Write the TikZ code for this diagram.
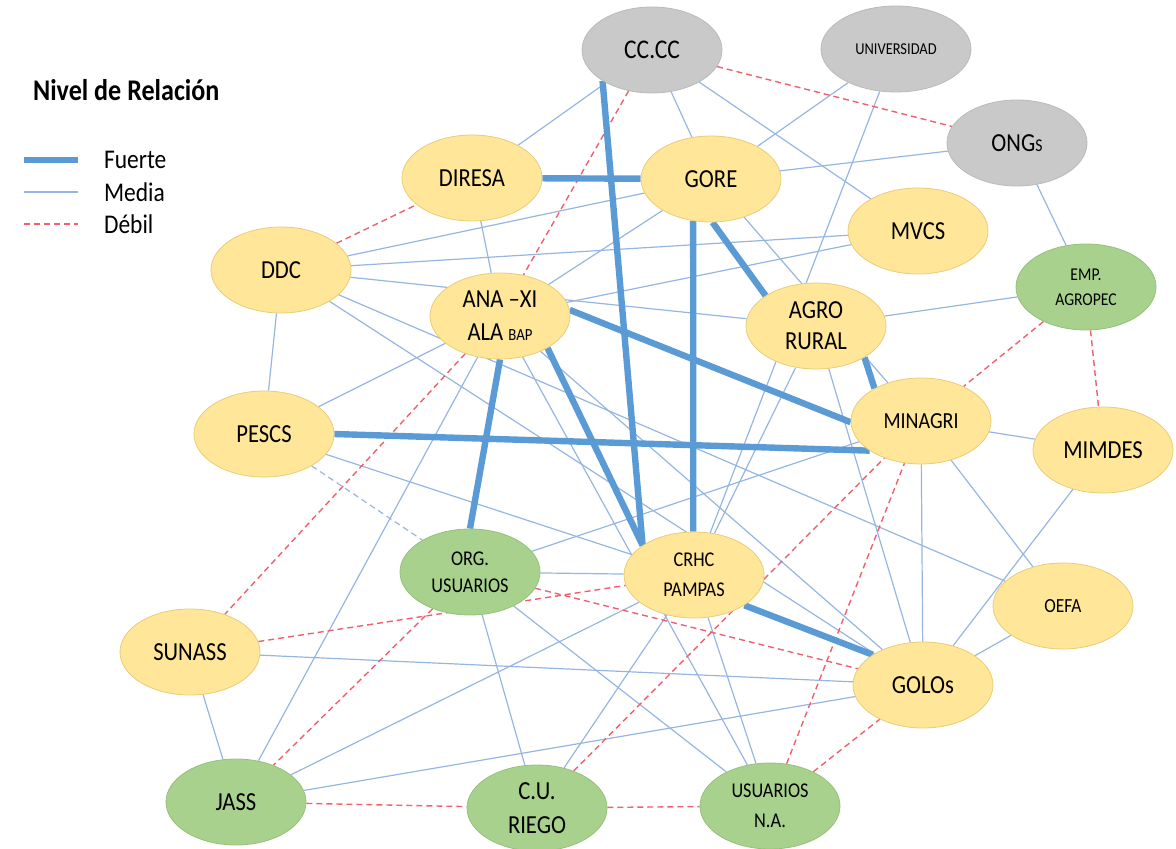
\documentclass[tikz,border=0pt]{standalone}
\usepackage{fontspec}
\setmainfont{Carlito}[FakeStretch=0.87]
\usetikzlibrary{shapes.geometric,backgrounds}

\definecolor{amarillo}{RGB}{255,230,153}
\definecolor{bordeam}{RGB}{232,204,120}
\definecolor{verde}{RGB}{169,209,142}
\definecolor{bordeve}{RGB}{150,192,122}
\definecolor{gris}{RGB}{201,201,201}
\definecolor{bordegr}{RGB}{186,186,186}
\definecolor{azulf}{RGB}{91,155,213}
\definecolor{azulm}{RGB}{150,182,226}
\definecolor{rojod}{RGB}{240,96,110}

\begin{document}
\begin{tikzpicture}[x=0.5pt,y=-0.5pt,
	actor/.style={ellipse, minimum width=70pt, minimum height=43pt, inner sep=0pt,
		align=center, font=\fontsize{13}{16}\selectfont},
	amar/.style={actor, fill=amarillo, draw=bordeam},
	verd/.style={actor, fill=verde, draw=bordeve},
	gri/.style={actor, fill=gris, draw=bordegr},
	fuerte/.style={line width=3.2pt, draw=azulf},
	media/.style={line width=0.6pt, draw=azulm},
	debil/.style={line width=0.7pt, draw=rojod, dash pattern=on 3pt off 2pt}]

	\useasboundingbox (0,0) rectangle (1176,849);

	% leyenda
	\node[anchor=west, font=\bfseries\fontsize{15}{17}\selectfont] (titulo) at (26,90) {Nivel de Relación};
	\draw[fuerte] (24,160) -- (78,160);
	\draw[media] (24,192) -- (78,192);
	\draw[debil] (24,224) -- (78,224);
	\node[anchor=west, font=\fontsize{13.5}{15}\selectfont] (lfuerte) at (97,160) {Fuerte};
	\node[anchor=west, font=\fontsize{13.5}{15}\selectfont] (lmedia) at (97,192) {Media};
	\node[anchor=west, font=\fontsize{13.5}{15}\selectfont] (ldebil) at (97,224) {Débil};

	% actores
	\node[gri, font=\fontsize{13.5}{16}\selectfont] (cccc) at (652,50) {CC.CC};
	\node[gri, minimum width=75pt, font=\fontsize{8.3}{10}\selectfont] (univ) at (896,49) {UNIVERSIDAD};
	\node[gri] (ongs) at (1017,143) {ONG{\fontsize{9}{9}\selectfont S}};
	\node[amar] (diresa) at (472,178) {DIRESA};
	\node[amar] (gore) at (711,179) {GORE};
	\node[amar] (mvcs) at (918,231) {MVCS};
	\node[amar] (ddc) at (281,270) {DDC};
	\node[verd, font=\fontsize{9}{12.5}\selectfont] (emp) at (1086,287) {EMP.\\AGROPEC};
	\node[amar, font=\fontsize{13}{16.5}\selectfont] (ana) at (500,316) {ANA –XI\\ALA {\fontsize{8.5}{8.5}\selectfont BAP}};
	\node[amar, font=\fontsize{13}{15.5}\selectfont] (agro) at (816,326) {AGRO\\RURAL};
	\node[amar, font=\fontsize{11.5}{14}\selectfont] (minagri) at (921,421) {MINAGRI};
	\node[amar] (pescs) at (264,434) {PESCS};
	\node[amar] (mimdes) at (1103,450) {MIMDES};
	\node[verd, font=\fontsize{10.5}{13.5}\selectfont] (org) at (470,572) {ORG.\\USUARIOS};
	\node[amar, font=\fontsize{10.5}{15}\selectfont] (crhc) at (694,575) {CRHC\\PAMPAS};
	\node[amar, font=\fontsize{10}{12}\selectfont] (oefa) at (1063,606) {OEFA};
	\node[amar] (sunass) at (190,652) {SUNASS};
	\node[amar] (golos) at (923,685) {GOLOs};
	\node[verd] (jass) at (236,802) {JASS};
	\node[verd, font=\fontsize{13}{17}\selectfont] (curiego) at (537,808) {C.U.\\RIEGO};
	\node[verd, font=\fontsize{10.5}{15}\selectfont] (usuna) at (770,806) {USUARIOS\\N.A.};

	\begin{pgfonlayer}{background}
	% relacion media
	\draw[media] (cccc) -- (diresa);
	\draw[media] (cccc) -- (gore);
	\draw[media] (cccc) -- (mvcs);
	\draw[media] (univ) -- (gore);
	\draw[media] (univ) -- (crhc);
	\draw[media] (ongs) -- (gore);
	\draw[media] (ongs) -- (emp);
	\draw[media] (ddc) -- (gore);
	\draw[media] (ddc) -- (mvcs);
	\draw[media] (ddc) -- (agro);
	\draw[media] (ddc) -- (pescs);
	\draw[media] (ddc) -- (oefa);
	\draw[media] (ddc) -- (golos);
	\draw[media] (diresa) -- (ana);
	\draw[media] (ana) -- (gore);
	\draw[media] (ana) -- (mvcs);
	\draw[media] (ana) -- (pescs);
	\draw[media] (ana) -- (jass);
	\draw[media] (ana) -- (usuna);
	\draw[media] (ana) -- (golos);
	\draw[media] (pescs) -- (crhc);
	\draw[media] (sunass) -- (jass);
	\draw[media] (sunass) -- (golos);
	\draw[media] (jass) -- (golos);
	\draw[media] (jass) -- (crhc);
	\draw[media] (org) -- (crhc);
	\draw[media] (org) -- (minagri);
	\draw[media] (org) -- (curiego);
	\draw[media] (org) -- (usuna);
	\draw[media] (crhc) -- (curiego);
	\draw[media] (crhc) -- (usuna);
	\draw[media] (agro) -- (crhc);
	\draw[media] (agro) -- (golos);
	\draw[media] (emp) -- (agro);
	\draw[media] (gore) -- (minagri);
	\draw[media] (minagri) -- (mimdes);
	\draw[media] (minagri) -- (oefa);
	\draw[media] (minagri) -- (golos);
	\draw[media] (mimdes) -- (golos);
	\draw[media] (oefa) -- (golos);
	\draw[media, dash pattern=on 3pt off 2pt] (pescs) -- (org);

	% relacion debil
	\draw[debil] (cccc) -- (ongs);
	\draw[debil] (ddc) -- (diresa);
	\draw[debil] (cccc) -- (ana);
	\draw[debil] (ana) -- (sunass);
	\draw[debil] (org) -- (jass);
	\draw[debil] (org) -- (golos);
	\draw[debil] (sunass) -- (crhc);
	\draw[debil] (jass) -- (curiego);
	\draw[debil] (curiego) -- (usuna);
	\draw[debil] (usuna) -- (golos);
	\draw[debil] (curiego) -- (minagri);
	\draw[debil] (usuna) -- (minagri);
	\draw[debil] (emp) -- (minagri);
	\draw[debil] (emp) -- (mimdes);

	% relacion fuerte
	\draw[fuerte] (diresa) -- (gore);
	\draw[fuerte] (cccc.212) -- (crhc.150);
	\draw[fuerte] (gore.247) -- (crhc.91);
	\draw[fuerte] (gore.272) -- (agro.149);
	\draw[fuerte] (agro.327) -- (minagri.145);
	\draw[fuerte] (ana.5) -- (minagri.181);
	\draw[fuerte] (pescs.east) -- (minagri.210);
	\draw[fuerte] (ana.south) -- (org.north);
	\draw[fuerte] (ana.326) -- (crhc.150);
	\draw[fuerte] (crhc.329) -- (golos.149);
	\end{pgfonlayer}
\end{tikzpicture}
\end{document}
